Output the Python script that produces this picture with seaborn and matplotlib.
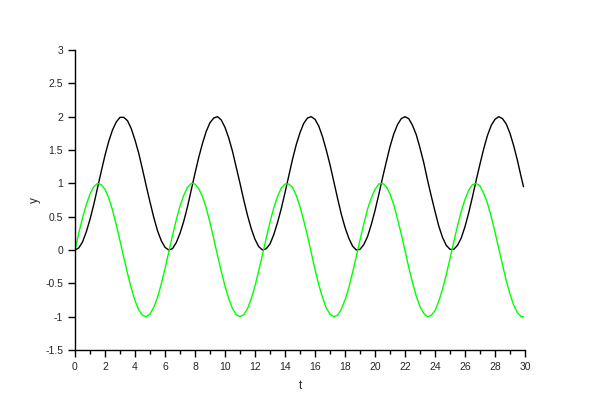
import matplotlib
matplotlib.use("Agg")
import matplotlib.pyplot as plt
import seaborn as sns
import pandas as pd
from matplotlib.ticker import MultipleLocator

# sample times and curve values
t = [0.0, 0.25, 0.5, 0.75, 1.0, 1.25, 1.5, 1.75, 2.0, 2.25,
     2.5, 2.75, 3.0, 3.25, 3.5, 3.75, 4.0, 4.25, 4.5, 4.75,
     5.0, 5.25, 5.5, 5.75, 6.0, 6.25, 6.5, 6.75, 7.0, 7.25,
     7.5, 7.75, 8.0, 8.25, 8.5, 8.75, 9.0, 9.25, 9.5, 9.75,
     10.0, 10.25, 10.5, 10.75, 11.0, 11.25, 11.5, 11.75, 12.0, 12.25,
     12.5, 12.75, 13.0, 13.25, 13.5, 13.75, 14.0, 14.25, 14.5, 14.75,
     15.0, 15.25, 15.5, 15.75, 16.0, 16.25, 16.5, 16.75, 17.0, 17.25,
     17.5, 17.75, 18.0, 18.25, 18.5, 18.75, 19.0, 19.25, 19.5, 19.75,
     20.0, 20.25, 20.5, 20.75, 21.0, 21.25, 21.5, 21.75, 22.0, 22.25,
     22.5, 22.75, 23.0, 23.25, 23.5, 23.75, 24.0, 24.25, 24.5, 24.75,
     25.0, 25.25, 25.5, 25.75, 26.0, 26.25, 26.5, 26.75, 27.0, 27.25,
     27.5, 27.75, 28.0, 28.25, 28.5, 28.75, 29.0, 29.25, 29.5, 29.75, 29.9]

y_black = [0.00, 0.03, 0.12, 0.27, 0.46, 0.68, 0.93, 1.18, 1.42, 1.63,
           1.80, 1.92, 1.99, 1.99, 1.94, 1.82, 1.65, 1.45, 1.21, 0.96,
           0.72, 0.49, 0.29, 0.14, 0.04, 0.00, 0.02, 0.11, 0.25, 0.43,
           0.65, 0.90, 1.15, 1.39, 1.60, 1.78, 1.91, 1.98, 2.00, 1.95,
           1.84, 1.68, 1.48, 1.24, 1.00, 0.75, 0.52, 0.32, 0.16, 0.05,
           0.00, 0.02, 0.09, 0.23, 0.41, 0.62, 0.86, 1.11, 1.36, 1.58,
           1.76, 1.90, 1.98, 2.00, 1.96, 1.86, 1.70, 1.50, 1.28, 1.03,
           0.78, 0.54, 0.34, 0.18, 0.06, 0.00, 0.01, 0.08, 0.20, 0.38,
           0.59, 0.83, 1.08, 1.32, 1.55, 1.74, 1.88, 1.97, 2.00, 1.97,
           1.87, 1.73, 1.53, 1.31, 1.05, 0.81, 0.58, 0.36, 0.19, 0.07,
           0.01, 0.01, 0.07, 0.18, 0.35, 0.56, 0.80, 1.05, 1.29, 1.52,
           1.72, 1.87, 1.96, 2.00, 1.97, 1.89, 1.75, 1.56, 1.34, 1.09, 0.95]

y_green = [0.00, 0.25, 0.48, 0.68, 0.84, 0.95, 1.00, 0.98, 0.91, 0.78,
           0.60, 0.38, 0.14, -0.11, -0.35, -0.57, -0.76, -0.90, -0.98, -1.00,
           -0.96, -0.86, -0.71, -0.51, -0.28, -0.03, 0.22, 0.45, 0.66, 0.82,
           0.94, 1.00, 0.99, 0.92, 0.80, 0.63, 0.41, 0.17, -0.08, -0.32,
           -0.54, -0.73, -0.88, -0.97, -1.00, -0.97, -0.88, -0.73, -0.54, -0.31,
           -0.07, 0.18, 0.42, 0.63, 0.80, 0.93, 0.99, 0.99, 0.94, 0.82,
           0.65, 0.44, 0.21, -0.04, -0.29, -0.52, -0.71, -0.87, -0.96, -1.00,
           -0.98, -0.89, -0.75, -0.57, -0.34, -0.10, 0.15, 0.39, 0.61, 0.78,
           0.91, 0.99, 1.00, 0.95, 0.84, 0.68, 0.47, 0.24, -0.01, -0.26,
           -0.49, -0.69, -0.85, -0.95, -1.00, -0.98, -0.91, -0.77, -0.59, -0.37,
           -0.13, 0.12, 0.36, 0.58, 0.76, 0.90, 0.98, 1.00, 0.96, 0.85,
           0.70, 0.50, 0.27, 0.02, -0.22, -0.46, -0.66, -0.83, -0.94, -1.00, -1.00]

y_ticks = [3, 2.5, 2, 1.5, 1, 0.5, 0, -0.5, -1, -1.5]
y_tick_labels = ["3", "2.5", "2", "1.5", "1", "0.5", "0", "-0.5", "-1", "-1.5"]
x_ticks = [0, 2, 4, 6, 8, 10, 12, 14, 16, 18, 20, 22, 24, 26, 28, 30]

sns.set_style("ticks")
plt.rcParams['font.family'] = ['Liberation Sans', 'DejaVu Sans']

df = pd.DataFrame({"t": t, "black": y_black, "green": y_green})

fig = plt.figure(figsize=(6, 4), dpi=100)
ax = fig.add_axes([0.125, 0.125, 0.75, 0.75])

sns.lineplot(data=df, x="t", y="black", ax=ax, color="#000000", linewidth=1.0)
sns.lineplot(data=df, x="t", y="green", ax=ax, color="#00ff00", linewidth=1.0)

ax.set_xlim(0, 30)
ax.set_ylim(-1.5, 3)
ax.set_xticks(x_ticks)
ax.set_xticklabels([str(v) for v in x_ticks])
ax.xaxis.set_minor_locator(MultipleLocator(1))
ax.set_yticks(y_ticks)
ax.set_yticklabels(y_tick_labels)

ax.tick_params(axis='both', which='major', labelsize=7.5, length=5, width=1, color='black', direction='out')
ax.tick_params(axis='x', which='minor', length=3, width=1, color='black', direction='out')

for side in ['top', 'right']:
    ax.spines[side].set_visible(False)
for side in ['left', 'bottom']:
    ax.spines[side].set_color('black')
    ax.spines[side].set_linewidth(1)

ax.set_xlabel("t", fontsize=8.5, labelpad=6)
ax.set_ylabel("y", fontsize=8.5, labelpad=3)

fig.savefig("out.png", dpi=100)
